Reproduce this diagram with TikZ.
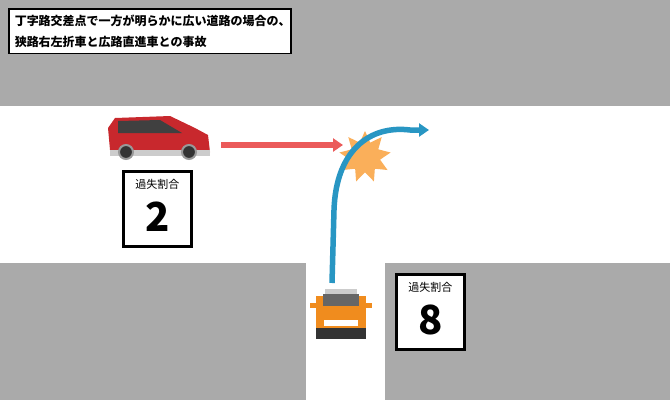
\documentclass[tikz,border=0pt]{standalone}
\usepackage{fontspec}
\setmainfont{Noto Sans CJK JP}
\usetikzlibrary{shapes.geometric,arrows.meta}
\definecolor{road}{RGB}{170,170,170}
\definecolor{redcar}{RGB}{200,40,45}
\definecolor{redarrow}{RGB}{235,90,90}
\definecolor{bluearrow}{RGB}{40,150,195}
\definecolor{orangecar}{RGB}{240,140,30}
\definecolor{burst}{RGB}{250,175,90}
\tikzset{
  ratio/.style={draw=black, line width=2.5pt, fill=white, minimum width=68pt, minimum height=75pt},
  wheel/.style={fill=black!80, draw=black!40, line width=2pt}
}
\begin{document}
\begin{tikzpicture}[x=1pt,y=-1pt]
            % Hintergrund und Strassen
            \fill[road] (0,0) rectangle (670,400);
            \fill[white] (0,106) rectangle (670,263);
            \fill[white] (306,263) rectangle (385,400);

            % Titel
            \node[draw=black, line width=1.5pt, fill=white, anchor=north west, align=left,
                  inner sep=6pt, font=\fontsize{12pt}{21pt}\selectfont\bfseries, text width=270pt]
                  (title) at (8,8) {丁字路交差点で一方が明らかに広い道路の場合の、\\狭路右左折車と広路直進車との事故};

            % Roter Wagen
            \fill[redcar] (110,150) -- (108,128) -- (115,118) -- (170,116) -- (195,128) -- (208,135) -- (210,152) -- (110,155) -- cycle;
            \fill[black!75] (118,121) -- (160,120) -- (182,133) -- (118,133) -- cycle;
            \fill[black!20] (110,150) rectangle (210,156);
            \draw[wheel] (126,152) circle (7);
            \draw[wheel] (189,152) circle (7);
            \coordinate (redfront) at (221,145);

            % Orange Wagen
            \fill[black!80] (316,322) rectangle (366,339);
            \fill[orangecar] (316,296) rectangle (366,328);
            \fill[orangecar] (310,303) rectangle (372,308);
            \fill[black!60] (323,294) rectangle (359,306);
            \fill[white] (324,320) rectangle (358,326);
            \fill[black!20] (325,289) rectangle (357,294);
            \coordinate (orangefront) at (332,283);

            % Kollision
            \node[star, star points=9, star point ratio=1.7, fill=burst, minimum size=52pt, inner sep=0pt] (crash) at (365,157) {};

            % Pfeile
            \coordinate (redtip) at (343,145);
            \draw[redarrow, line width=5.5pt, -{Triangle[length=10pt,width=13pt]}] (redfront) -- (redtip);
            \coordinate (bluetip) at (429,130);
            \draw[bluearrow, line width=5.5pt, -{Triangle[length=10pt,width=13pt]}]
                  (orangefront) -- (334,210) .. controls (336,150) and (370,125) .. (410,130) -- (bluetip);

            % Verschuldensquoten
            \node[ratio, anchor=north west] (left) at (122,170) {};
            \node[font=\fontsize{11pt}{11pt}\selectfont] at ([yshift=-14pt]left.north) {過失割合};
            \node[font=\fontsize{40pt}{40pt}\selectfont\bfseries] at ([yshift=-8pt]left.center) {2};
            \node[ratio, anchor=north west] (right) at (395,273) {};
            \node[font=\fontsize{11pt}{11pt}\selectfont] at ([yshift=-14pt]right.north) {過失割合};
            \node[font=\fontsize{40pt}{40pt}\selectfont\bfseries] at ([yshift=-8pt]right.center) {8};
        \end{tikzpicture}
\end{document}
